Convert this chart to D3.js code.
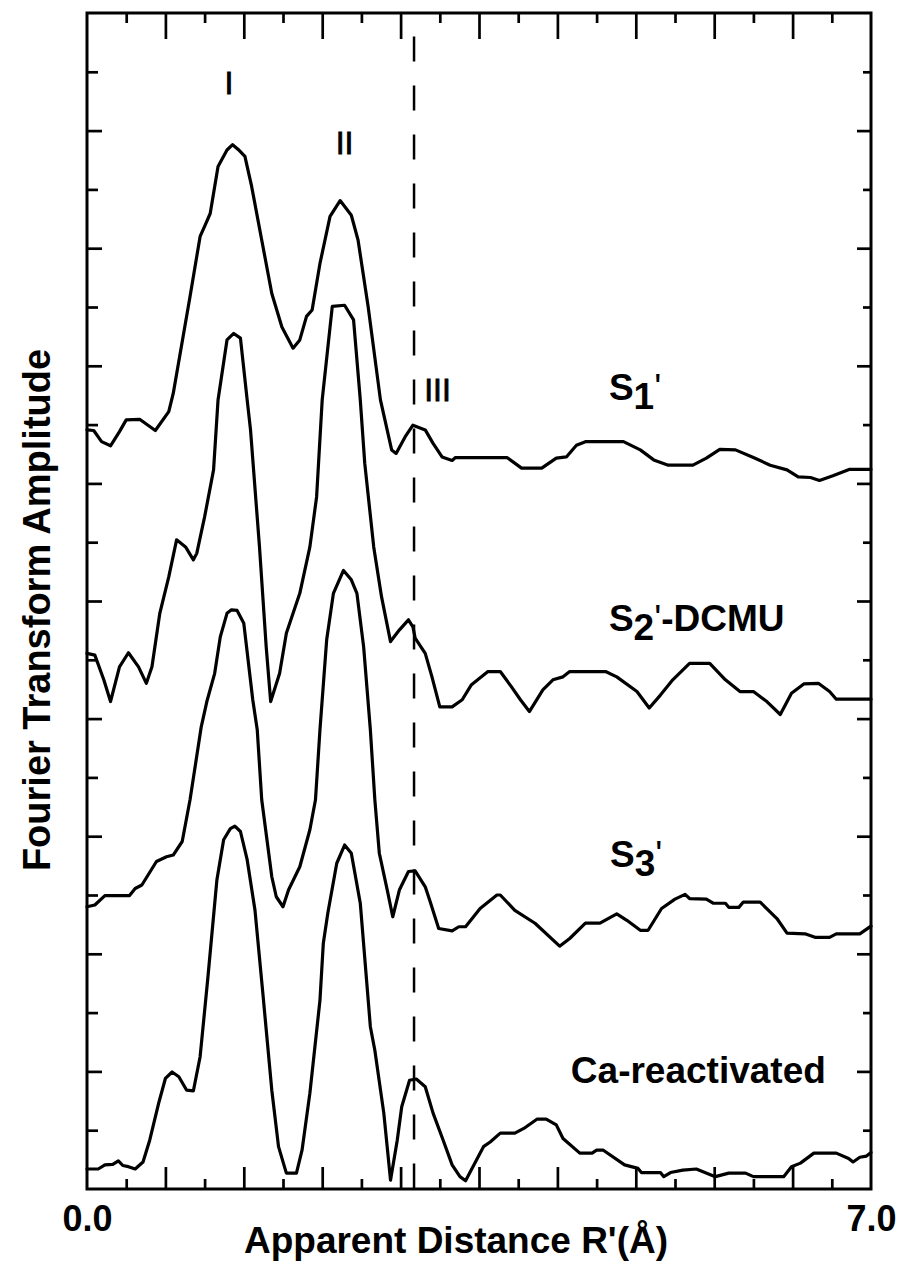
<!DOCTYPE html>
<html><head><meta charset="utf-8">
<script src="https://cdn.jsdelivr.net/npm/d3@7"></script>
<style>body{margin:0;background:#fff}</style>
</head><body>
<script>
// ---------- data (R' in Å, Fourier transform amplitude in arbitrary offset units) ----------
const xTickLabels = [0.0, 7.0];
const seriesNames = ["S1'", "S2'-DCMU", "S3'", "Ca-reactivated"];
const peakNames = ["I", "II", "III"];
const peakR = [1.268, 2.30, 3.13];
const peakV = [18.62, 17.60, 13.40];
const dashedR = 2.92;

const s1 = [[0,12.91],[0.06,12.90],[0.13,12.71],[0.21,12.64],[0.29,12.88],[0.35,13.08],[0.47,13.09],[0.61,12.90],[0.73,13.22],[0.77,13.53],[0.92,15.18],[1.01,16.20],[1.05,16.37],[1.10,16.59],[1.17,17.39],[1.25,17.67],[1.30,17.76],[1.35,17.68],[1.41,17.56],[1.47,17.05],[1.56,16.14],[1.65,15.23],[1.74,14.66],[1.84,14.30],[1.90,14.44],[1.96,14.84],[2.01,14.95],[2.08,15.74],[2.17,16.54],[2.26,16.81],[2.36,16.56],[2.42,16.14],[2.51,15.01],[2.62,13.42],[2.72,12.57],[2.76,12.51],[2.84,12.79],[2.91,12.99],[3.02,12.91],[3.09,12.68],[3.17,12.45],[3.26,12.39],[3.29,12.44],[3.75,12.44],[3.88,12.26],[4.06,12.26],[4.19,12.43],[4.28,12.45],[4.37,12.65],[4.45,12.71],[4.79,12.71],[4.94,12.57],[5.06,12.40],[5.19,12.31],[5.41,12.31],[5.53,12.43],[5.65,12.58],[5.79,12.57],[5.95,12.44],[6.10,12.31],[6.25,12.23],[6.35,12.11],[6.46,12.10],[6.54,12.05],[6.66,12.13],[6.81,12.24],[7.00,12.24]];

const s2 = [[0,9.11],[0.07,9.08],[0.15,8.66],[0.21,8.29],[0.29,8.88],[0.37,9.12],[0.46,8.88],[0.53,8.60],[0.58,8.88],[0.65,9.79],[0.73,10.41],[0.80,11.04],[0.88,10.92],[0.95,10.70],[0.98,10.81],[1.05,11.43],[1.13,12.23],[1.17,13.42],[1.25,14.44],[1.31,14.55],[1.37,14.47],[1.43,13.42],[1.46,12.91],[1.54,10.92],[1.60,9.22],[1.64,8.29],[1.72,8.77],[1.78,9.45],[1.90,10.13],[1.99,10.92],[2.05,11.77],[2.10,13.42],[2.19,15.01],[2.30,15.03],[2.38,14.78],[2.44,13.42],[2.48,12.34],[2.56,10.92],[2.63,10.07],[2.71,9.31],[2.79,9.51],[2.87,9.68],[2.91,9.56],[2.93,9.37],[3.02,9.11],[3.08,8.71],[3.15,8.20],[3.26,8.20],[3.35,8.32],[3.43,8.57],[3.58,8.80],[3.69,8.80],[3.79,8.54],[3.87,8.32],[3.95,8.12],[4.07,8.49],[4.16,8.66],[4.25,8.71],[4.31,8.80],[4.63,8.80],[4.73,8.71],[4.91,8.46],[5.02,8.18],[5.12,8.40],[5.23,8.66],[5.38,8.94],[5.56,8.94],[5.70,8.66],[5.83,8.46],[5.95,8.46],[6.07,8.29],[6.19,8.07],[6.29,8.43],[6.40,8.59],[6.53,8.60],[6.63,8.46],[6.69,8.33],[7.00,8.33]];

const s3 = [[0,4.80],[0.07,4.83],[0.16,4.99],[0.38,4.99],[0.43,5.11],[0.49,5.17],[0.62,5.57],[0.71,5.65],[0.77,5.68],[0.85,5.91],[0.92,6.62],[1.02,7.86],[1.07,8.29],[1.14,8.77],[1.19,9.39],[1.25,9.79],[1.29,9.85],[1.34,9.84],[1.40,9.62],[1.48,8.32],[1.52,7.81],[1.56,6.62],[1.65,5.31],[1.69,4.97],[1.75,4.80],[1.80,5.09],[1.90,5.48],[1.99,6.11],[2.04,6.62],[2.08,7.81],[2.14,9.34],[2.20,10.13],[2.29,10.52],[2.36,10.36],[2.41,10.13],[2.47,9.22],[2.53,7.81],[2.57,6.62],[2.61,5.71],[2.68,5.09],[2.73,4.63],[2.79,5.09],[2.87,5.40],[2.93,5.41],[3.02,5.14],[3.06,4.91],[3.14,4.43],[3.26,4.39],[3.32,4.46],[3.38,4.46],[3.51,4.77],[3.66,5.00],[3.69,5.00],[3.82,4.74],[4.00,4.52],[4.22,4.13],[4.31,4.26],[4.45,4.52],[4.58,4.52],[4.73,4.68],[4.82,4.57],[4.94,4.40],[5.01,4.40],[5.13,4.77],[5.25,4.93],[5.34,5.01],[5.38,4.94],[5.53,4.93],[5.59,4.86],[5.70,4.86],[5.73,4.79],[5.82,4.79],[5.86,4.88],[6.01,4.88],[6.16,4.60],[6.25,4.35],[6.41,4.34],[6.50,4.28],[6.63,4.28],[6.69,4.34],[6.90,4.34],[7.00,4.47]];

const s4 = [[0,0.34],[0.10,0.34],[0.16,0.41],[0.23,0.42],[0.28,0.48],[0.32,0.40],[0.37,0.38],[0.43,0.34],[0.50,0.46],[0.56,0.83],[0.64,1.46],[0.70,1.88],[0.76,1.99],[0.82,1.91],[0.89,1.68],[0.95,1.67],[1.01,2.25],[1.08,3.61],[1.16,5.26],[1.22,5.94],[1.28,6.13],[1.32,6.17],[1.37,6.08],[1.43,5.60],[1.50,4.74],[1.57,3.33],[1.65,1.68],[1.71,0.72],[1.78,0.27],[1.87,0.27],[1.92,0.66],[1.99,1.63],[2.08,3.21],[2.11,4.18],[2.15,4.69],[2.23,5.54],[2.30,5.85],[2.36,5.71],[2.44,4.86],[2.53,2.76],[2.57,2.36],[2.65,1.29],[2.71,0.15],[2.77,0.83],[2.81,1.40],[2.88,1.85],[2.94,1.87],[3.02,1.74],[3.09,1.29],[3.18,0.83],[3.26,0.41],[3.33,0.21],[3.38,0.14],[3.54,0.72],[3.60,0.80],[3.69,0.95],[3.82,0.95],[3.90,1.03],[4.02,1.19],[4.10,1.19],[4.19,1.09],[4.25,0.86],[4.40,0.61],[4.51,0.61],[4.55,0.66],[4.61,0.66],[4.80,0.41],[4.92,0.35],[4.95,0.28],[5.12,0.28],[5.15,0.21],[5.21,0.28],[5.32,0.32],[5.44,0.34],[5.61,0.21],[5.73,0.27],[5.88,0.27],[5.95,0.21],[6.22,0.21],[6.29,0.38],[6.37,0.44],[6.49,0.61],[6.69,0.61],[6.80,0.52],[6.84,0.46],[6.90,0.54],[6.96,0.56],[7.00,0.62]];

const seriesData = [s1, s2, s3, s4];
// label anchor positions (R', amplitude) for the series names
const seriesLabelR = [4.66, 4.66, 4.67, 4.32];
const seriesLabelV = [13.42, 9.49, 5.48, 1.80];

// ---------- drawing ----------
const W = 903, H = 1264;
const FONT = "'Liberation Sans', Arial, Helvetica, sans-serif";
const svg = d3.select("body").append("svg").attr("width", W).attr("height", H)
  .style("font-family", FONT);

const x = d3.scaleLinear().domain([0, 7]).range([87, 871]);
const y = d3.scaleLinear().domain([0, 20]).range([1189, 13]);

// frame
svg.append("rect").attr("x", x(0)).attr("y", y(20))
  .attr("width", x(7) - x(0)).attr("height", y(0) - y(20))
  .attr("fill", "none").attr("stroke", "#000").attr("stroke-width", 3);

const xMinor = d3.range(1, 20, 2).map(i => i * 7 / 20);
const xMajor = d3.range(2, 20, 2).map(i => i * 7 / 20);
const yMinor = d3.range(1, 20, 2);
const yMajor = d3.range(2, 20, 2);

function tickAxis(gen, vals, size, tr) {
  const g = svg.append("g").attr("transform", tr)
    .call(gen.tickValues(vals).tickSize(size).tickFormat(""));
  g.select(".domain").remove();
  g.selectAll("text").remove();
  g.selectAll("line").attr("stroke", "#000").attr("stroke-width", 2.7);
}
tickAxis(d3.axisBottom(x), xMajor, -22, `translate(0,${y(0)})`);
tickAxis(d3.axisBottom(x), xMinor, -10, `translate(0,${y(0)})`);
tickAxis(d3.axisTop(x), xMajor, -26, `translate(0,${y(20)})`);
tickAxis(d3.axisTop(x), xMinor, -10, `translate(0,${y(20)})`);
tickAxis(d3.axisLeft(y), yMajor, -15, `translate(${x(0)},0)`);
tickAxis(d3.axisLeft(y), yMinor, -11, `translate(${x(0)},0)`);
tickAxis(d3.axisRight(y), yMajor, -14, `translate(${x(7)},0)`);
tickAxis(d3.axisRight(y), yMinor, -8, `translate(${x(7)},0)`);

// end labels 0.0 and 7.0
const lab = svg.append("g").attr("transform", `translate(0,${y(0)})`)
  .call(d3.axisBottom(x).tickValues(xTickLabels).tickSize(0).tickPadding(16).tickFormat(d3.format(".1f")));
lab.select(".domain").remove();
lab.selectAll("text").attr("font-family", FONT).attr("font-size", 36).attr("font-weight", "bold").attr("fill", "#000");

// axis titles
svg.append("text").attr("x", 456).attr("y", 1253).attr("text-anchor", "middle")
  .attr("font-size", 37).attr("font-weight", "bold").text("Apparent Distance R'(Å)");
svg.append("text").attr("transform", "translate(50,610) rotate(-90)").attr("text-anchor", "middle")
  .attr("font-size", 38).attr("font-weight", "bold").text("Fourier Transform Amplitude");

// dashed line
svg.append("line").attr("x1", x(dashedR)).attr("x2", x(dashedR))
  .attr("y1", y(19.6)).attr("y2", y(0))
  .attr("stroke", "#000").attr("stroke-width", 2.5).attr("stroke-dasharray", "25,24");

// curves
const line = d3.line().x(d => x(d[0])).y(d => y(d[1])).curve(d3.curveLinear);
svg.selectAll("path.spec").data(seriesData).join("path").attr("class", "spec")
  .attr("d", line).attr("fill", "none").attr("stroke", "#000")
  .attr("stroke-width", 3.2).attr("stroke-linejoin", "round").attr("stroke-linecap", "round");

// peak labels
peakNames.forEach((t, i) => {
  svg.append("text").attr("x", x(peakR[i])).attr("y", y(peakV[i])).attr("text-anchor", "middle")
    .attr("font-size", 32).attr("stroke", "#000").attr("stroke-width", 0.8).text(t);
});

// series labels
function seriesLabel(i, main, sub, prime, rest) {
  const t = svg.append("text").attr("x", x(seriesLabelR[i])).attr("y", y(seriesLabelV[i]))
    .attr("font-size", 37).attr("font-weight", "bold");
  t.append("tspan").text(main);
  if (sub) {
    t.append("tspan").attr("dy", 9).text(sub);
    t.append("tspan").attr("dy", -9).attr("font-weight", "normal").text(prime);
    if (rest) t.append("tspan").text(rest);
  }
}
seriesLabel(0, "S", "1", "'");
seriesLabel(1, "S", "2", "'", "-DCMU");
seriesLabel(2, "S", "3", "'");
seriesLabel(3, seriesNames[3]);
</script>
</body></html>
